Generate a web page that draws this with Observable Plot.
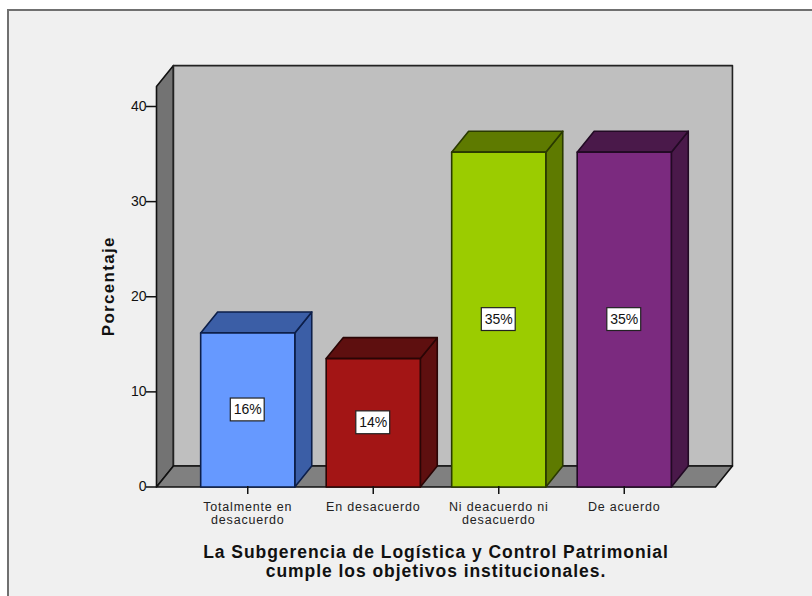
<!DOCTYPE html>
<html><head><meta charset="utf-8">
<script src="https://cdn.jsdelivr.net/npm/d3@7"></script>
<script src="https://cdn.jsdelivr.net/npm/@observablehq/plot@0.6"></script>
<style>
html,body{margin:0;padding:0;background:#fff;width:812px;height:596px;overflow:hidden}
#panel{position:absolute;left:7px;top:9px;right:0;bottom:0;background:#f0f0f0;border-left:2px solid #707070;border-top:2px solid #707070}
#chart{position:absolute;left:0;top:0}
svg{background:transparent!important;display:block}
[aria-label="x-axis tick label"]{letter-spacing:.8px}
.ylab{letter-spacing:1.3px}
.xlab{letter-spacing:.95px}
</style></head><body>
<div id="panel"></div><div id="chart"></div>
<script>
const categories = ["Totalmente en\ndesacuerdo","En desacuerdo","Ni deacuerdo ni\ndesacuerdo","De acuerdo"];
const values = [16.2,13.5,35.2,35.2];
const labels = ["16%","14%","35%","35%"];
const frontColors = ["#6699ff","#a31515","#9bcc00","#7b2a7f"];
const darkColors = ["#3b5ea6","#5e0f0f","#5e7a00","#4a194a"];
const edgeColors = ["#0d1f4a","#2a0505","#2a3a00","#220a24"];
const yTicks = [0,10,20,30,40];

const xMin=-0.727, xMax=3.727, dX=0.135, dY=2.2, yTop=42.1, halfBar=0.375;
const poly=(id,fill,stroke,pts)=>pts.map(([x,y])=>({id,fill,stroke,x,y}));
const wallFaces=[
  ...poly("left","#737373","#111",[[xMin,0],[xMin+dX,dY],[xMin+dX,yTop+dY],[xMin,yTop]]),
  ...poly("back","#bfbfbf","#222",[[xMin+dX,dY],[xMax+dX,dY],[xMax+dX,yTop+dY],[xMin+dX,yTop+dY]]),
  ...poly("floor","#808080","#111",[[xMin,0],[xMax,0],[xMax+dX,dY],[xMin+dX,dY]])
];
const barFaces=values.flatMap((v,i)=>{
  const l=i-halfBar,r=i+halfBar;
  return [
    ...poly("side"+i,darkColors[i],edgeColors[i],[[r,0],[r+dX,dY],[r+dX,v+dY],[r,v]]),
    ...poly("top"+i,darkColors[i],edgeColors[i],[[l,v],[r,v],[r+dX,v+dY],[l+dX,v+dY]]),
    ...poly("front"+i,frontColors[i],edgeColors[i],[[l,0],[r,0],[r,v],[l,v]])
  ];
});
const face=(data)=>Plot.line(data,{x:"x",y:"y",z:"id",fill:d=>d.fill,stroke:d=>d.stroke,strokeWidth:1.6,curve:"linear-closed",strokeLinejoin:"round"});
const rows=values.map((v,i)=>({i,v,label:labels[i]}));

const plot=Plot.plot({
  width:812,height:596,
  marginLeft:156,marginRight:97,marginTop:86,marginBottom:110,
  style:{background:"transparent",fontFamily:"'Liberation Sans',Arial,sans-serif",overflow:"visible"},
  x:{domain:[xMin,xMax],range:[156,715]},
  y:{domain:[0,40],range:[486.5,106]},
  color:{type:"identity"},
  marks:[
    face(wallFaces),
    face(barFaces),
    Plot.rect(rows,{x1:d=>d.i-0.135,x2:d=>d.i+0.135,y1:d=>d.v/2-1.2,y2:d=>d.v/2+1.2,fill:"#fff",stroke:"#222",strokeWidth:1.2}),
    Plot.text(rows,{x:"i",y:d=>d.v/2,text:"label",fontSize:14,fill:"#111"}),
    Plot.axisY({ticks:yTicks,tickSize:10,tickPadding:0,fontSize:14,label:null,stroke:"#111",strokeWidth:1.5,fill:"#111"}),
    Plot.axisX({ticks:[0,1,2,3],tickFormat:i=>categories[i],tickSize:8,tickPadding:7,fontSize:12.5,label:null,lineHeight:1.04,stroke:"#111",fill:"#222",strokeWidth:1.5}),
    Plot.text(["Porcentaje"],{className:"ylab",x:xMin,y:21.1,dx:-48,text:d=>d,rotate:-90,fontSize:17,fontWeight:"bold",fill:"#111"}),
    Plot.text(["La Subgerencia de Logística y Control Patrimonial\ncumple los objetivos institucionales."],{className:"xlab",x:1.5,y:0,dy:74,text:d=>d,fontSize:17.5,fontWeight:"bold",fill:"#111",lineHeight:1.08})
  ]
});
document.getElementById("chart").appendChild(plot);
</script>
</body></html>
